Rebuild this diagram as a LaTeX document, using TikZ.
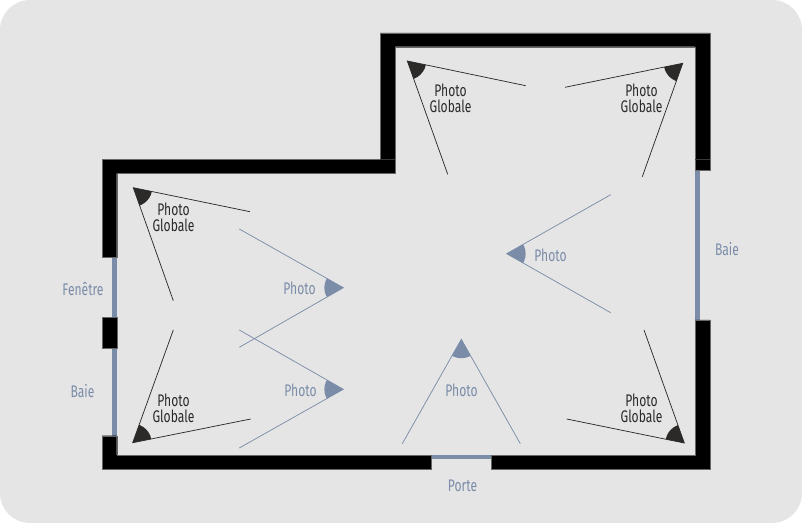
\documentclass[tikz,border=0pt]{standalone}
\usepackage{fontspec}
\setmainfont[FakeStretch=0.72]{Fira Sans}
\definecolor{bgc}{HTML}{E5E5E5}
\definecolor{bluec}{HTML}{7A8CA8}
\definecolor{darkc}{HTML}{2B2A29}
\tikzset{
  wallshape/.style={fill=black,draw=black!55!bgc,line width=0.2pt},
  seamline/.style={draw=black!75!bgc,line width=0.3pt},
  openshape/.style={fill=bluec},
  darklabel/.style={text=darkc,font=\fontsize{12.6pt}{12pt}\selectfont,align=center,inner sep=0pt},
  bluelabel/.style={text=bluec,font=\fontsize{12.6pt}{12pt}\selectfont,align=center,inner sep=0pt},
}
\newcommand{\viewcone}[4]{%
  \begin{scope}
    \clip (#1) circle[radius=14.2pt];
    \fill[#4] (#1) -- (#2) -- (#3) -- cycle;
  \end{scope}
  \draw[#4,line width=0.55pt] (#2) -- (#1) -- (#3);
}
\begin{document}
\begin{tikzpicture}[x=0.75pt,y=-0.75pt]
\useasboundingbox (0,0) rectangle (802,523);
\fill[white] (0,0) rectangle (802,523);
\fill[bgc,rounded corners=22.5pt] (0,0) rectangle (802,523);
% openings
\fill[openshape] (112,257) rectangle (116.7,317);
\fill[openshape] (112,348) rectangle (116.7,436);
\fill[openshape] (695,170) rectangle (700,320);
\fill[openshape] (431.5,455) rectangle (491,458.5);
% walls
\path[wallshape] (102,257.3) -- (102,159.5) -- (380.3,159.5) -- (380.3,33) -- (710,33) -- (710,170) -- (695,170) -- (695,46.7) -- (395,46.7) -- (395,173.3) -- (116.7,173.3) -- (116.7,257.3) -- cycle;
\path[wallshape] (102,316.7) rectangle (116.7,348.3);
\path[wallshape] (102,435.7) -- (116.7,435.7) -- (116.7,455) -- (431.5,455) -- (431.5,469) -- (102,469) -- cycle;
\path[wallshape] (491,469) -- (491,455) -- (695,455) -- (695,320) -- (710,320) -- (710,469) -- cycle;
\draw[seamline] (380.3,159.3) -- (395,159.3);
\draw[seamline] (695,159.3) -- (710,159.3);
% cones
\viewcone{133.3,187.7}{250,211.7}{173.3,300.7}{darkc}
\viewcone{132.7,442.7}{250.7,419}{173.3,330}{darkc}
\viewcone{407.3,61}{525.7,85.7}{447.7,174.3}{darkc}
\viewcone{682.7,63.3}{565,87.3}{642.3,176.7}{darkc}
\viewcone{684.3,443}{566.7,419}{644,330}{darkc}
\viewcone{343.3,287.7}{239.3,229}{239.3,347.3}{bluec}
\viewcone{343.3,389.3}{239.3,330}{239.3,448}{bluec}
\viewcone{461.3,339.3}{402.3,443.7}{520.3,443.7}{bluec}
\viewcone{506.7,253.7}{610.7,194.7}{610.7,312.7}{bluec}
% labels
\node[darklabel] (g1) at (173.5,217.5) {Photo\\Globale};
\node[darklabel] (g2) at (173.5,408.5) {Photo\\Globale};
\node[darklabel] (g3) at (450.5,98.5) {Photo\\Globale};
\node[darklabel] (g4) at (641.5,98.5) {Photo\\Globale};
\node[darklabel] (g5) at (641.5,408.5) {Photo\\Globale};
\node[bluelabel] (p1) at (299.5,288.5) {Photo};
\node[bluelabel] (p2) at (300.5,390) {Photo};
\node[bluelabel] (p3) at (461.5,390.5) {Photo};
\node[bluelabel] (p4) at (550.5,255.5) {Photo};
\node[bluelabel] (fe) at (83,289) {Fenêtre};
\node[bluelabel] (b1) at (82.5,391.5) {Baie};
\node[bluelabel] (b2) at (727,249.5) {Baie};
\node[bluelabel] (po) at (462.5,485.5) {Porte};
\end{tikzpicture}
\end{document}
